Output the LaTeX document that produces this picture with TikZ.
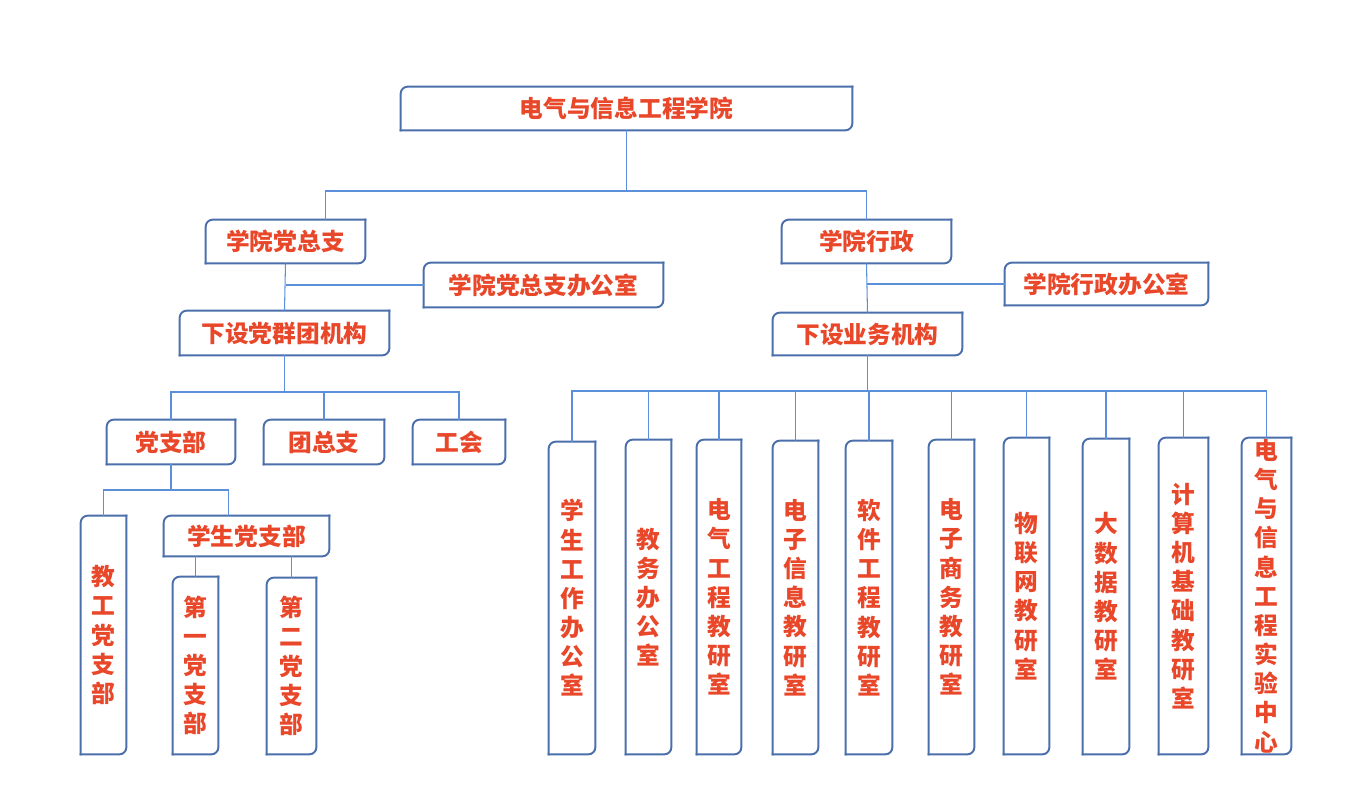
\documentclass[tikz,border=0pt]{standalone}
\usepackage{fontspec}
\newfontfamily\cjk{Noto Sans CJK SC}
\usetikzlibrary{positioning, calc}
\definecolor{c1}{HTML}{4A6FAB}
\definecolor{c2}{HTML}{5B8FD9}
\definecolor{c3}{HTML}{E8472A}

\begin{document}
\begin{tikzpicture}[
    x=0.02cm, y=-0.02cm,
    every node/.style={font=\cjk\bfseries\fontsize{13.5pt}{16.6pt}\selectfont, text=c3},
    box/.style={rectangle, inner sep=0pt, align=center},
    sz/.style 2 args={minimum width=#1*0.02cm, minimum height=#2*0.02cm},
    edge/.style={draw=c1, line width=1.1pt, line cap=rect, rounded corners=4pt},
    conn/.style={draw=c2, line width=0.6pt},
]
\useasboundingbox (0,0) rectangle (1355,790);

% ================================================================ top
\node[box, sz={451}{43}] (college) at (626.5, 108.5) {电气与信息工程学院};

% ================================================================ left
\node[box, sz={159}{43}] (party) at (285.5, 241.5) {学院党总支};
\node[box, sz={239}{44}] (partyoff) at (543.5, 285) {学院党总支办公室};
\node[box, sz={209}{44}] (pgroup) at (284.5, 333) {下设党群团机构};

\node[box, sz={128}{44}] (branch) at (171, 442) {党支部};
\node[box, sz={120}{44}] (league) at (324, 442) {团总支};
\node[box, sz={92}{44}] (union) at (459, 442) {工会};

\node[box, sz={45}{238}] (staff) at (103.5, 635) {教\\工\\党\\支\\部};
\node[box, sz={165}{40}] (stud) at (246.5, 536) {学生党支部};
\node[box, sz={45}{177}] (sub1) at (195.5, 665.5) {第\\一\\党\\支\\部};
\node[box, sz={49}{176}] (sub2) at (291.5, 666) {第\\二\\党\\支\\部};

% ================================================================ right
\node[box, sz={169}{43}] (admin) at (866.5, 241.5) {学院行政};
\node[box, sz={203}{42}] (adminoff) at (1106.5, 284) {学院行政办公室};
\node[box, sz={189}{42}] (biz) at (867.5, 334) {下设业务机构};

\node[box, sz={46}{312}] (d1) at (572, 598) {学\\生\\工\\作\\办\\公\\室};
\node[box, sz={45}{314}] (d2) at (648.5, 597) {教\\务\\办\\公\\室};
\node[box, sz={44}{314}] (d3) at (719, 597) {电\\气\\工\\程\\教\\研\\室};
\node[box, sz={45}{313}] (d4) at (795.5, 597.5) {电\\子\\信\\息\\教\\研\\室};
\node[box, sz={46}{313}] (d5) at (869, 597.5) {软\\件\\工\\程\\教\\研\\室};
\node[box, sz={45}{314}] (d6) at (951.5, 597) {电\\子\\商\\务\\教\\研\\室};
\node[box, sz={45}{316}] (d7) at (1026.5, 596) {物\\联\\网\\教\\研\\室};
\node[box, sz={46}{315}] (d8) at (1106, 596.5) {大\\数\\据\\教\\研\\室};
\node[box, sz={49}{316}] (d9) at (1183.5, 596) {计\\算\\机\\基\\础\\教\\研\\室};
\node[box, sz={49}{316}] (d10) at (1266.5, 596) {电\\气\\与\\信\\息\\工\\程\\实\\验\\中\\心};

% outlines: round top-left and bottom-right corners only
\foreach \n in {college, party, partyoff, pgroup, branch, league, union,
                staff, stud, sub1, sub2, admin, adminoff, biz,
                d1, d2, d3, d4, d5, d6, d7, d8, d9, d10}{
    \draw[edge] (\n.south west) -- (\n.north west) -- (\n.north east);
    \draw[edge] (\n.north east) -- (\n.south east) -- (\n.south west);
}

% ================================================================ connectors
\coordinate (bar1) at (0, 191);
\coordinate (bar2) at (0, 392);
\coordinate (bar3) at (0, 490);
\coordinate (bar4) at (0, 391);

\draw[conn] (college.south) -- (college.south |- bar1);
\draw[conn] ([xshift=0.8cm]party.north) |- (college.south |- bar1) -| (admin.north);

\draw[conn] (party.south) -- (pgroup.north);
\draw[conn] (party.south |- partyoff.west) -- (partyoff.west);
\draw[conn] (pgroup.south) -- (pgroup.south |- bar2);
\draw[conn] (branch.north) |- (pgroup.south |- bar2) -| (union.north);
\draw[conn] (league.north) -- (league.north |- bar2);

\draw[conn] (branch.south) -- (branch.south |- bar3);
\draw[conn] (staff.north) |- (branch.south |- bar3) -| ([xshift=-0.36cm]stud.north);
\draw[conn] (sub1.north) -- (sub1.north |- stud.south);
\draw[conn] (sub2.north) -- (sub2.north |- stud.south);

\draw[conn] (admin.south) -- (biz.north);
\draw[conn] (admin.south |- adminoff.west) -- (adminoff.west);
\draw[conn] (biz.south) -- (biz.south |- bar4);
\draw[conn] (d1.north) |- (biz.south |- bar4) -| (d10.north);
\foreach \n in {d2, d3, d4, d5, d6, d7, d8, d9}{
    \draw[conn] (\n.north) -- (\n.north |- bar4);
}

\end{tikzpicture}
\end{document}
